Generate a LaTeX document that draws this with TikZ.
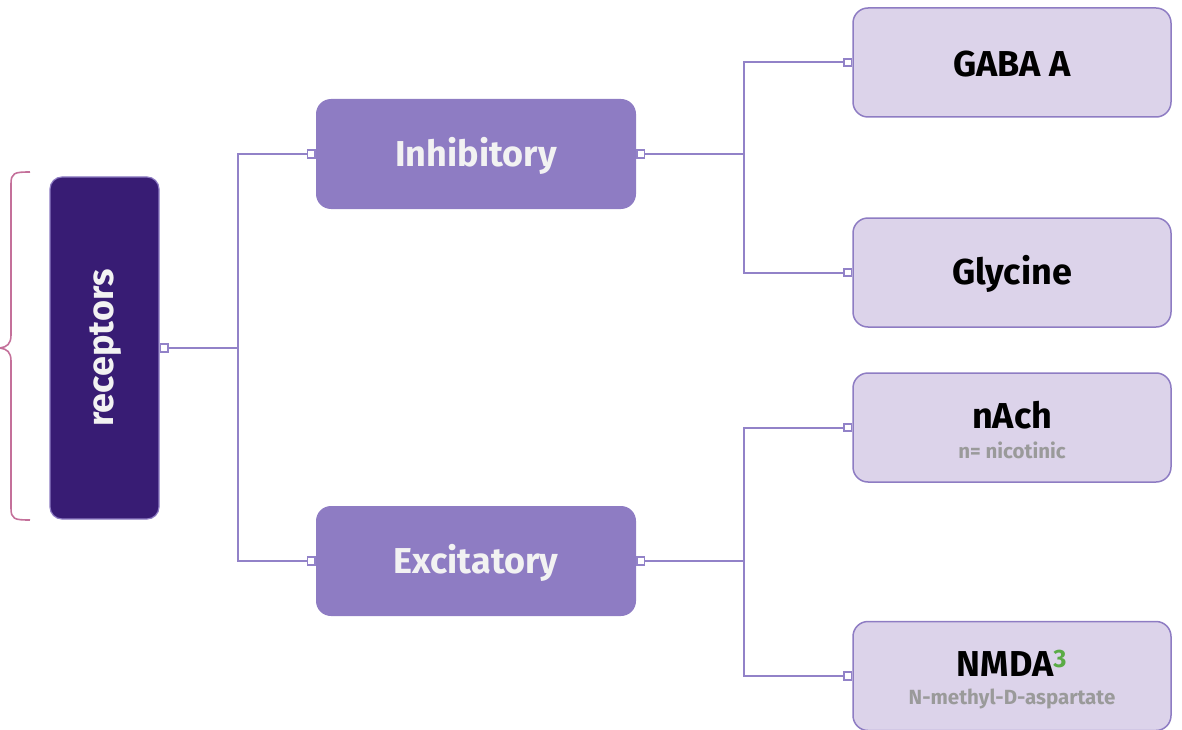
\documentclass[tikz,border=0pt]{standalone}
\usepackage{fontspec}
\setmainfont{Fira Sans}
\definecolor{dark}{HTML}{381C74}
\definecolor{mid}{HTML}{8E7CC3}
\definecolor{light}{HTML}{DCD3EA}
\definecolor{line}{HTML}{9282C8}
\definecolor{subgrey}{HTML}{9A9A9A}
\definecolor{supgreen}{HTML}{5AAB46}
\definecolor{bracec}{HTML}{C4709A}
\definecolor{wtext}{HTML}{F2F2F2}
\tikzset{
  rootbox/.style={draw=mid, line width=1.2pt, fill=dark, rounded corners=12pt, minimum width=109pt, minimum height=342pt, inner sep=0pt},
  midbox/.style={fill=mid, rounded corners=15pt, minimum width=320pt, minimum height=110pt, inner sep=0pt},
  midtext/.style={text=wtext, font=\fontsize{36}{40}\selectfont\bfseries, inner sep=0pt},
  leafbox/.style={draw=mid, line width=1.5pt, fill=light, rounded corners=15pt, minimum width=318pt, minimum height=109pt, inner sep=0pt},
  leaftext/.style={font=\fontsize{36}{40}\selectfont\bfseries, inner sep=0pt},
  conn/.style={draw=line, line width=2pt},
  port/.style={draw=line, fill=white, line width=1.6pt, minimum size=7.5pt, inner sep=0pt},
  sub/.style={font=\fontsize{20.5}{24}\selectfont\bfseries, text=subgrey, inner sep=0pt}
}
\begin{document}
\begin{tikzpicture}[x=1pt,y=-1pt]
\useasboundingbox (0,0) rectangle (1182,730);
% brace
\draw[bracec, line width=1.6pt] (30,172) .. controls (14,172) and (11,173) .. (11,184) -- (11,335)
  .. controls (11,344) and (7,347) .. (0,348) .. controls (7,349) and (11,352) .. (11,361)
  -- (11,508) .. controls (11,519) and (14,520) .. (30,520);
% boxes
\node[rootbox] (rec) at (104.5,348) {};
\node[rotate=90, text=wtext, font=\fontsize{36}{40}\selectfont\bfseries] (reclabel) at (106,348) {receptors};
\node[midbox] (inh) at (476,154) {};
\node[midbox] (exc) at (476,561) {};
\node[midtext] (inhlabel) at (476,156) {Inhibitory};
\node[midtext] (exclabel) at (476,563) {Excitatory};
\node[leafbox] (gaba) at (1012,62.5) {};
\node[leafbox] (gly) at (1012,272.5) {};
\node[leafbox] (nach) at (1012,427.5) {};
\node[leafbox] (nmda) at (1012,676) {};
\node[leaftext] (gabalabel) at (1012,64) {GABA A};
\node[leaftext] (glylabel) at (1012,274) {Glycine};
\node[leaftext] (nachlabel) at (1012,415.5) {nAch};
\node[sub] (nachsub) at (1012,450.5) {n= nicotinic};
\node[leaftext] (nmdalabel) at (1012,663.5) {NMDA\textsuperscript{\color{supgreen}3}};
\node[sub] (nmdasub) at (1012,698.5) {N-methyl-D-aspartate};
% ports
\node[port, anchor=west] (p0) at (rec.east) {};
\node[port, anchor=east] (p1) at (inh.west) {};
\node[port, anchor=east] (p2) at (exc.west) {};
\node[port, anchor=west] (p3) at (inh.east) {};
\node[port, anchor=west] (p4) at (exc.east) {};
\node[port, anchor=east] (p5) at (gaba.west) {};
\node[port, anchor=east] (p6) at (gly.west) {};
\node[port, anchor=east] (p7) at (nach.west) {};
\node[port, anchor=east] (p8) at (nmda.west) {};
% connectors
\coordinate (j0) at (238,348);
\coordinate (j1) at (744,154);
\coordinate (j2) at (744,561);
\draw[conn] (p0) -- (j0);
\draw[conn] (j0) |- (p1);
\draw[conn] (j0) |- (p2);
\draw[conn] (p3) -- (j1);
\draw[conn] (j1) |- (p5);
\draw[conn] (j1) |- (p6);
\draw[conn] (p4) -- (j2);
\draw[conn] (j2) |- (p7);
\draw[conn] (j2) |- (p8);
\end{tikzpicture}
\end{document}
